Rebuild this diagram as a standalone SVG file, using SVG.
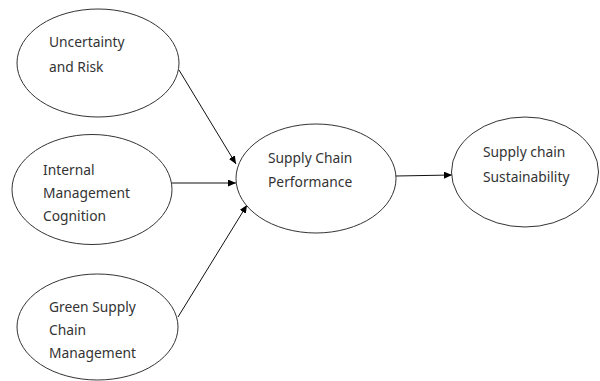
<svg xmlns="http://www.w3.org/2000/svg" width="600" height="381" viewBox="0 0 600 381">
<defs>
<marker id="arr" markerWidth="8" markerHeight="7" refX="8" refY="3.5" orient="auto" markerUnits="userSpaceOnUse">
<path d="M0,0 L8,3.5 L0,7 Z" fill="#000"/>
</marker>
<style>
ellipse{fill:#fff;stroke:#333;stroke-width:1}
text{font-family:"Noto Sans","Open Sans",sans-serif;font-size:13.8px;fill:#333}
.c{stroke:#111;stroke-width:1;fill:none;marker-end:url(#arr)}
</style>
</defs>
<rect width="600" height="381" fill="#fff"/>
<g id="connectors">
<line class="c" x1="179" y1="70" x2="236" y2="164"/>
<line class="c" x1="172" y1="183" x2="236" y2="183"/>
<line class="c" x1="178" y1="317" x2="247" y2="205"/>
<line class="c" x1="396" y1="176" x2="452" y2="175"/>
</g>
<g id="n1"><ellipse cx="98" cy="63" rx="81" ry="54"/><text x="49" y="47">Uncertainty</text><text x="49" y="72">and Risk</text></g>
<g id="n2"><ellipse cx="92" cy="189.5" rx="80" ry="55"/><text x="43" y="175">Internal</text><text x="43" y="198">Management</text><text x="43" y="221">Cognition</text></g>
<g id="n3"><ellipse cx="97.5" cy="327" rx="80.5" ry="53"/><text x="49" y="312">Green Supply</text><text x="49" y="335">Chain</text><text x="49" y="358">Management</text></g>
<g id="n4"><ellipse cx="316" cy="178.5" rx="80" ry="54.5"/><text x="268" y="163">Supply Chain</text><text x="268" y="187">Performance</text></g>
<g id="n5"><ellipse cx="525" cy="172" rx="73.5" ry="55"/><text x="483" y="157">Supply chain</text><text x="483" y="182">Sustainability</text></g>
</svg>
